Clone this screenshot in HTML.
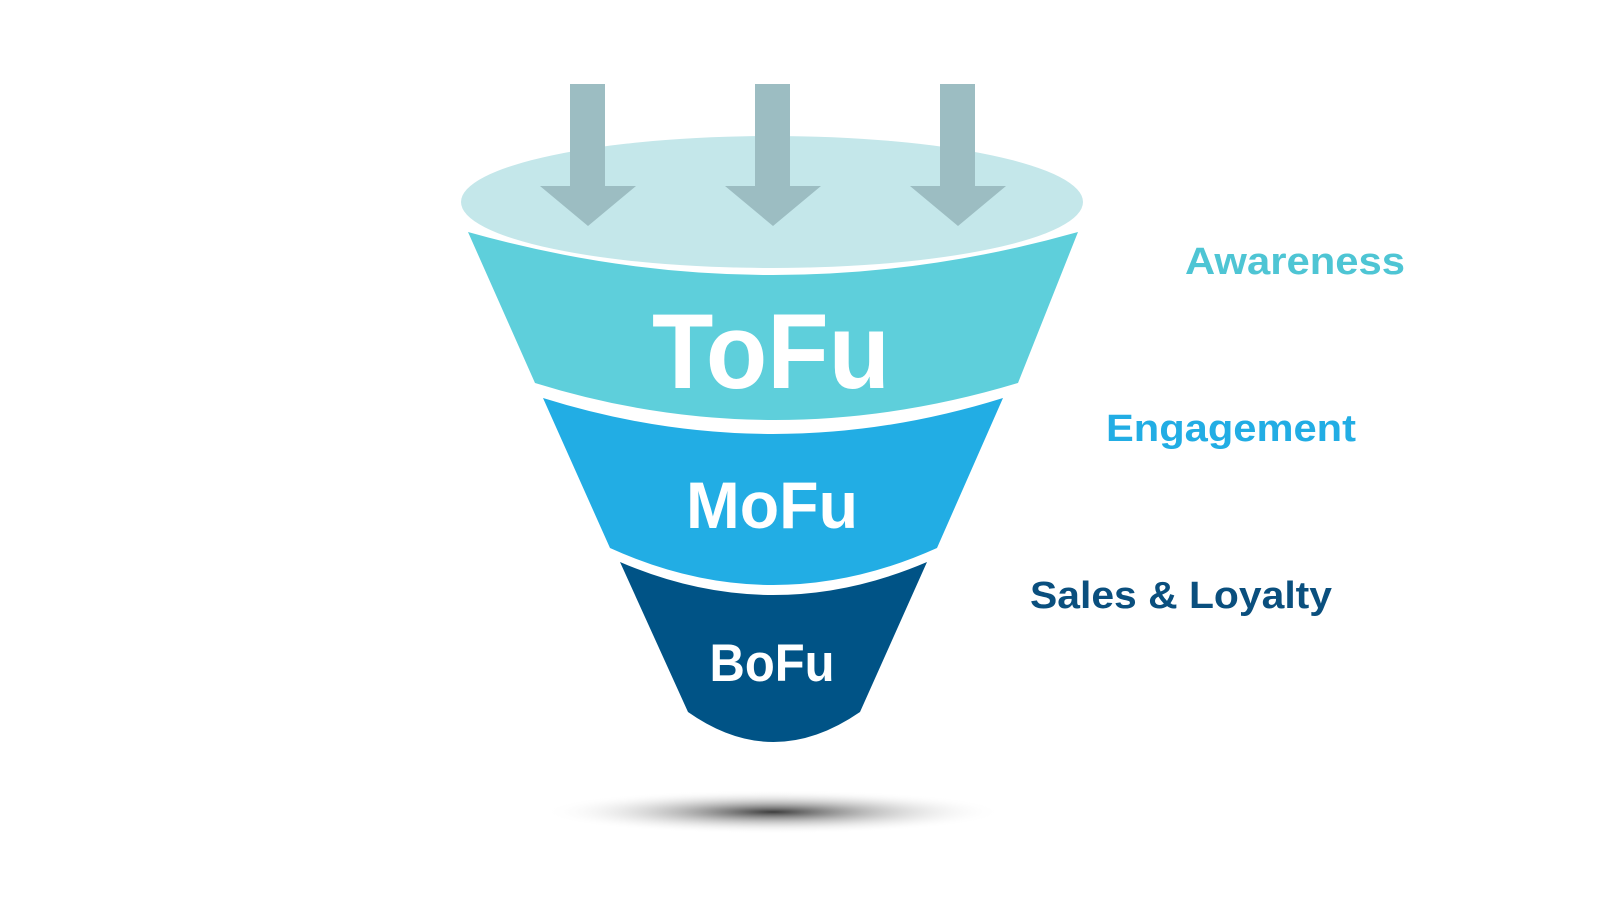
<!DOCTYPE html>
<html><head><meta charset="utf-8"><style>
html,body{margin:0;padding:0;background:#fff;}
svg{display:block;}
text{font-family:"Liberation Sans",sans-serif;font-weight:bold;}
</style></head><body>
<svg width="1600" height="901" viewBox="0 0 1600 901" xmlns="http://www.w3.org/2000/svg">
<defs>
<radialGradient id="sh" cx="0.5" cy="0.5" r="0.5">
<stop offset="0" stop-color="#333" stop-opacity="0.95"/>
<stop offset="0.4" stop-color="#777" stop-opacity="0.5"/>
<stop offset="1" stop-color="#fff" stop-opacity="0"/>
</radialGradient>
</defs>
<ellipse cx="773" cy="812" rx="230" ry="22" fill="url(#sh)"/>
<ellipse cx="772" cy="202" rx="311" ry="66" fill="#c4e7ea"/>
<path d="M468,232 Q773,318 1078,232 L1018,383 Q773,457 535,383 Z" fill="#5ecfdb"/>
<path d="M543,398 Q773,470 1003,398 L937,548 Q773,622 610,548 Z" fill="#22ade4"/>
<path d="M620,562 Q773,628 927,562 L860,712 Q773,772 688,712 Z" fill="#005386"/>
<g fill="#9cbdc2">
<path d="M570,84 H605 V186 H636 L588,226 L540,186 H570 Z"/>
<path d="M755,84 H790 V186 H821 L773,226 L725,186 H755 Z"/>
<path d="M940,84 H975 V186 H1006 L958,226 L910,186 H940 Z"/>
</g>
<text x="771" y="388" font-size="107" fill="#fff" text-anchor="middle" textLength="238" lengthAdjust="spacingAndGlyphs">ToFu</text>
<text x="772" y="528" font-size="66" fill="#fff" text-anchor="middle" textLength="172" lengthAdjust="spacingAndGlyphs">MoFu</text>
<text x="772" y="681" font-size="53" fill="#fff" text-anchor="middle" textLength="125" lengthAdjust="spacingAndGlyphs">BoFu</text>
<text x="1185" y="274" font-size="38" fill="#4ec5d4" textLength="220" lengthAdjust="spacingAndGlyphs">Awareness</text>
<text x="1106" y="441" font-size="38" fill="#22ade4" textLength="250" lengthAdjust="spacingAndGlyphs">Engagement</text>
<text x="1030" y="608" font-size="38" fill="#0a4f7e" textLength="302" lengthAdjust="spacingAndGlyphs">Sales &amp; Loyalty</text>
</svg>
</body></html>
